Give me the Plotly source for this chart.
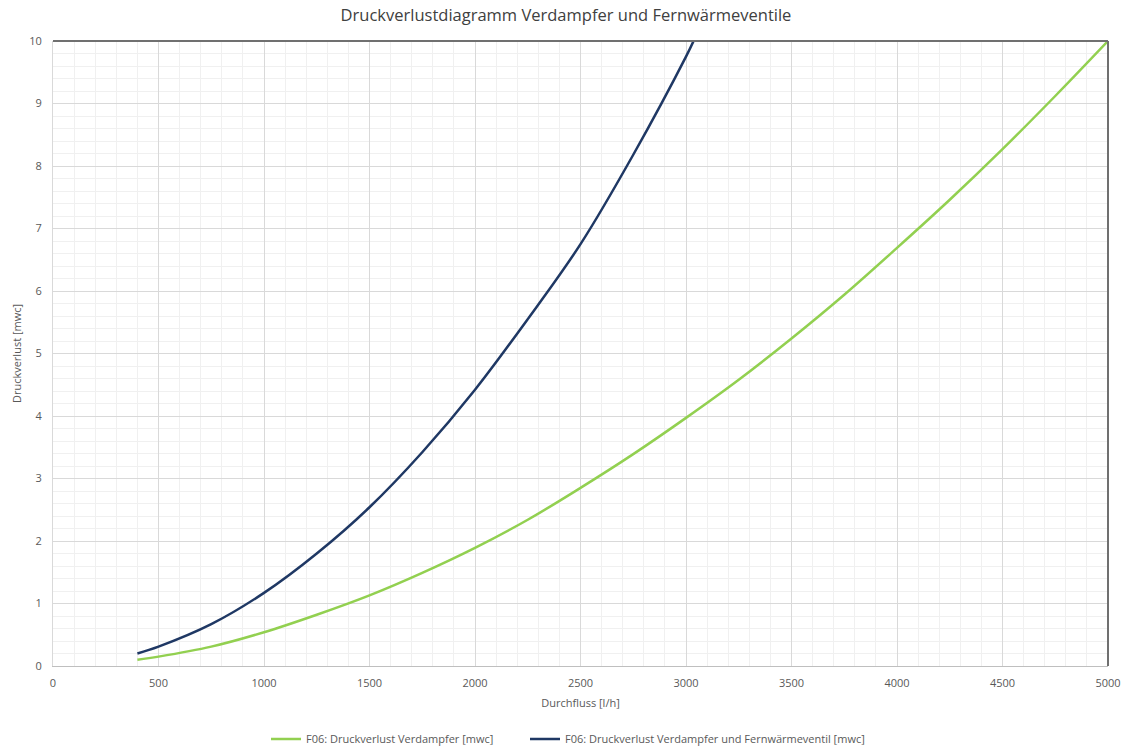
import plotly.graph_objects as go

# Flow rate [l/h] and pressure loss [mwc]
flow_verdampfer = [400, 500, 750, 1000, 1250, 1500, 1750, 2000, 2250, 2500,
                   2750, 3000, 3250, 3500, 3750, 4000, 4250, 4500, 4750, 5000]
loss_verdampfer = [0.10, 0.15, 0.31, 0.54, 0.82, 1.13, 1.49, 1.89, 2.34, 2.85,
                   3.39, 3.97, 4.58, 5.24, 5.94, 6.69, 7.46, 8.27, 9.12, 10.0]

flow_ventil = [400, 500, 750, 1000, 1250, 1500, 1750, 2000, 2250, 2500, 2750, 3000, 3040]
loss_ventil = [0.20, 0.31, 0.67, 1.17, 1.80, 2.54, 3.42, 4.42, 5.55, 6.75, 8.18, 9.75, 10.03]

name_verdampfer = "F06: Druckverlust Verdampfer [mwc]"
name_ventil = "F06: Druckverlust Verdampfer und Fernwärmeventil [mwc]"

x_ticks = list(range(0, 5001, 500))
y_ticks = list(range(0, 11))

FONT = "Open Sans, Liberation Sans, sans-serif"

fig = go.Figure()
fig.add_trace(go.Scatter(x=flow_verdampfer, y=loss_verdampfer, mode="lines",
                         name=name_verdampfer, legend="legend",
                         line=dict(color="#92D050", width=2.5, shape="spline")))
fig.add_trace(go.Scatter(x=flow_ventil, y=loss_ventil, mode="lines",
                         name=name_ventil, legend="legend2",
                         line=dict(color="#1F3864", width=2.5, shape="spline")))

legend_common = dict(orientation="h", xref="container", yref="container",
                     xanchor="left", y=1 - 739 / 751, yanchor="middle",
                     font=dict(size=11, color="#595959"), itemwidth=30,
                     bgcolor="rgba(0,0,0,0)")

fig.update_layout(
    width=1129, height=751,
    margin=dict(l=53, r=21, t=41, b=85),
    paper_bgcolor="white", plot_bgcolor="white",
    font=dict(family=FONT, color="#595959", size=11),
    title=dict(text="Druckverlustdiagramm Verdampfer und Fernwärmeventile",
               x=566 / 1129, xanchor="center", xref="container",
               y=1 - 15 / 751, yanchor="middle", yref="container",
               font=dict(size=16.5, color="#404040", family=FONT)),
    showlegend=True,
    legend=dict(legend_common, x=266 / 1129),
    legend2=dict(legend_common, x=525 / 1129),
    xaxis=dict(range=[0, 5000], tickvals=x_ticks, ticktext=[str(v) for v in x_ticks],
               showgrid=True, gridcolor="#d9d9d9", gridwidth=1,
               minor=dict(dtick=100, showgrid=True, gridcolor="#f0f0f0", gridwidth=1),
               showline=True, linecolor="#bfbfbf", linewidth=1, zeroline=False,
               ticks="", ticklabelstandoff=7, automargin=False,
               title=dict(text="Durchfluss [l/h]", font=dict(size=11, color="#595959"), standoff=10)),
    yaxis=dict(range=[0, 10], tickvals=y_ticks, ticktext=[str(v) for v in y_ticks],
               showgrid=True, gridcolor="#d9d9d9", gridwidth=1,
               minor=dict(dtick=0.2, showgrid=True, gridcolor="#f0f0f0", gridwidth=1),
               showline=True, linecolor="#d9d9d9", linewidth=1, zeroline=False,
               ticks="", ticklabelstandoff=8, automargin=False,
               title=dict(text="Druckverlust [mwc]", font=dict(size=11, color="#595959"), standoff=5)),
    shapes=[
        dict(type="line", xref="paper", yref="paper", x0=0, x1=1, y0=1, y1=1,
             line=dict(color="#707070", width=2)),
        dict(type="line", xref="paper", yref="paper", x0=1, x1=1, y0=0, y1=1,
             line=dict(color="#707070", width=2)),
    ],
)

fig.write_html("out.html", config={"displayModeBar": False},
               post_script="document.body.style.margin='0px';document.body.style.overflow='hidden';")
